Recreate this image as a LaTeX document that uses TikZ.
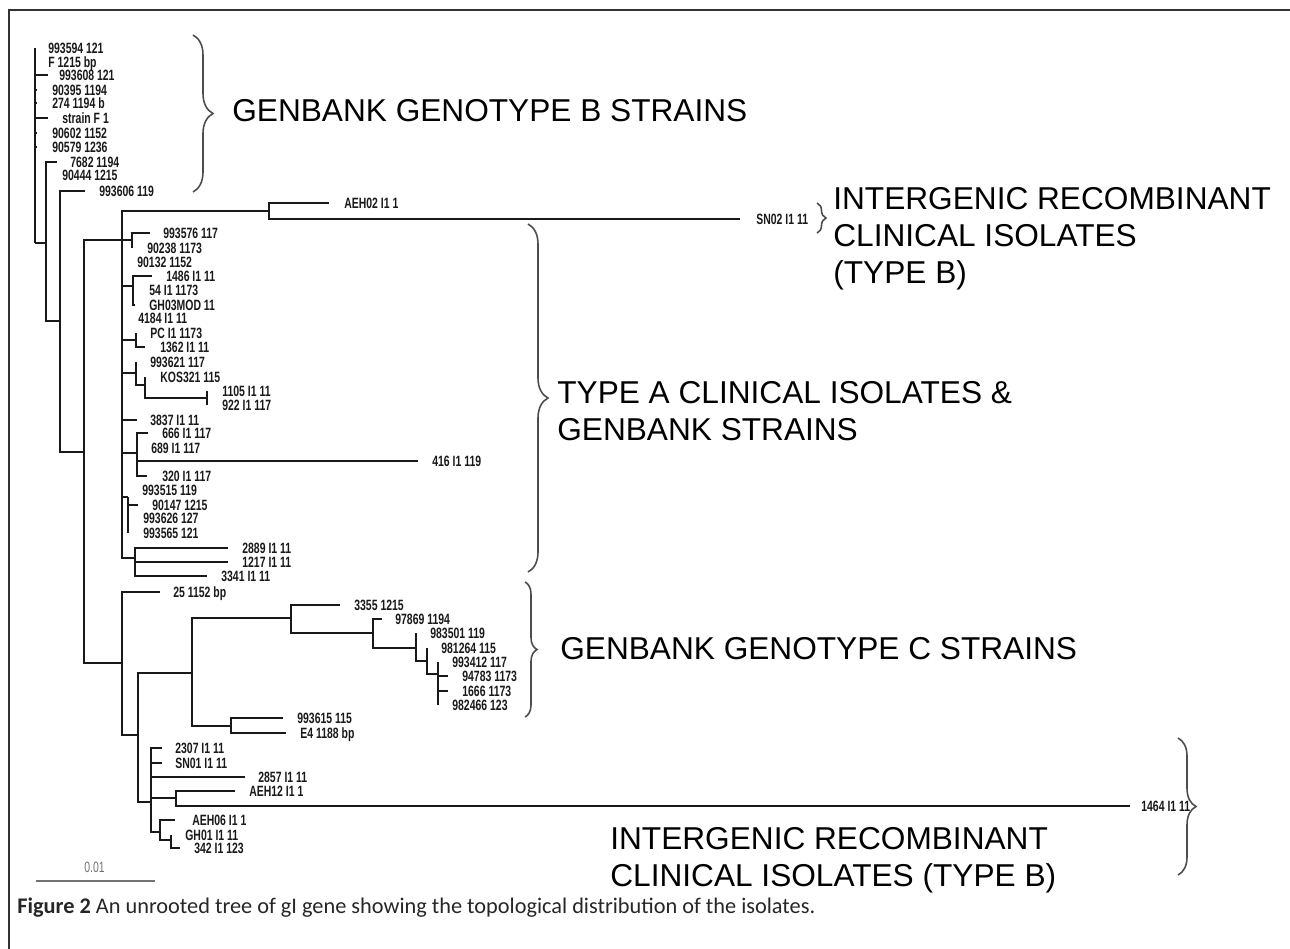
\documentclass[tikz,border=0pt]{standalone}
\usepackage{fontspec}
\setmainfont{Liberation Sans}
\newfontfamily\leaffont[FakeStretch=0.7]{Liberation Sans}
\newfontfamily\captionfont{Carlito}
\usetikzlibrary{decorations.pathreplacing}

\begin{document}
\begin{tikzpicture}[x=0.02cm,y=-0.02cm]
\tikzstyle{branch}=[line width=1.1pt, color=black!90];
\tikzstyle{leaf}=[anchor=west, inner sep=0pt, text depth=0pt, font=\leaffont\bfseries\fontsize{8.5pt}{10pt}\selectfont, text=black!90];
\tikzstyle{group}=[anchor=north west, inner sep=0pt, align=left, font=\fontsize{18pt}{21pt}\selectfont];
\tikzstyle{bracket}=[decorate, line width=0.9pt, color=black!70];
\useasboundingbox (0,0) rectangle (1290,948);
\path (9,10) rectangle (1297,956) [draw, rounded corners=0.24cm, line width=0.9pt, color=black!80];
% internal nodes
\coordinate (root) at (35,243);
\coordinate (b_mid) at (46,243);
\coordinate (b_low) at (60,321);
\coordinate (spine) at (84,452);
\coordinate (a_stem) at (122,240);
\coordinate (aeh02_sn02) at (269,211);
\coordinate (a_993576) at (132,240);
\coordinate (a_1486) at (133,286);
\coordinate (a_pc) at (136,340);
\coordinate (a_993621) at (136,373);
\coordinate (a_kos) at (145,385);
\coordinate (a_1105) at (207,398);
\coordinate (a_666) at (137,453);
\coordinate (a_90147) at (128,497);
\coordinate (a_2889) at (135,558);
\coordinate (c_stem) at (122,663);
\coordinate (bc_node) at (138,735);
\coordinate (c_node) at (192,673);
\coordinate (c_993615) at (231,726);
\coordinate (c_3355) at (291,618);
\coordinate (c_97869) at (373,633);
\coordinate (c_983501) at (416,648);
\coordinate (c_981264) at (427,661);
\coordinate (c_94783) at (438,674);
\coordinate (i_node) at (151,802);
\coordinate (i_aeh12) at (176,798);
\coordinate (i_aeh06) at (160,832);
\coordinate (i_gh01) at (171,840);
% branch tips
\coordinate (t_993594) at (35,48);
\coordinate (t_f1215) at (35,62);
\coordinate (t_993608) at (48,75);
\coordinate (t_90395) at (37,90);
\coordinate (t_274) at (37,103);
\coordinate (t_strainf) at (48,118);
\coordinate (t_90602) at (37,133);
\coordinate (t_90579) at (37,147);
\coordinate (t_7682) at (57,162);
\coordinate (t_90444) at (46,175);
\coordinate (t_993606) at (85,191);
\coordinate (t_aeh02) at (329,203);
\coordinate (t_sn02) at (740,219);
\coordinate (t_993576) at (150,233);
\coordinate (t_90238) at (132,248);
\coordinate (t_90132) at (122,262);
\coordinate (t_1486) at (152,276);
\coordinate (t_54) at (133,290);
\coordinate (t_gh03) at (135,305);
\coordinate (t_4184) at (122,318);
\coordinate (t_pc) at (136,333);
\coordinate (t_1362) at (145,347);
\coordinate (t_993621) at (136,362);
\coordinate (t_kos321) at (145,377);
\coordinate (t_1105) at (207,391);
\coordinate (t_922) at (207,405);
\coordinate (t_3837) at (137,420);
\coordinate (t_666) at (148,433);
\coordinate (t_689) at (137,448);
\coordinate (t_416) at (418,461);
\coordinate (t_320) at (147,476);
\coordinate (t_993515) at (122,490);
\coordinate (t_90147) at (138,505);
\coordinate (t_993626) at (128,518);
\coordinate (t_993565) at (128,533);
\coordinate (t_2889) at (228,548);
\coordinate (t_1217) at (228,562);
\coordinate (t_3341) at (207,576);
\coordinate (t_25) at (160,592);
\coordinate (t_3355) at (340,605);
\coordinate (t_97869) at (382,619);
\coordinate (t_983501) at (416,633);
\coordinate (t_981264) at (427,648);
\coordinate (t_993412) at (438,662);
\coordinate (t_94783) at (448,676);
\coordinate (t_1666) at (448,691);
\coordinate (t_982466) at (438,705);
\coordinate (t_993615) at (283,718);
\coordinate (t_e4) at (286,733);
\coordinate (t_2307) at (162,748);
\coordinate (t_sn01) at (162,763);
\coordinate (t_2857) at (245,777);
\coordinate (t_aeh12) at (235,791);
\coordinate (t_1464) at (1130,806);
\coordinate (t_aeh06) at (175,820);
\coordinate (t_gh01) at (171,835);
\coordinate (t_342) at (180,848);
\coordinate (scale_l) at (36,881);
\coordinate (scale_r) at (155,881);
% leaf labels
\node (l_993594) at (48,48) [leaf] {993594 121};
\node (l_f1215) at (48,62) [leaf] {F 1215 bp};
\node (l_993608) at (59,75) [leaf] {993608 121};
\node (l_90395) at (52,90) [leaf] {90395 1194};
\node (l_274) at (52,103) [leaf] {274 1194 b};
\node (l_strainf) at (62,118) [leaf] {strain F 1};
\node (l_90602) at (52,133) [leaf] {90602 1152};
\node (l_90579) at (52,147) [leaf] {90579 1236};
\node (l_7682) at (70,162) [leaf] {7682 1194};
\node (l_90444) at (62,175) [leaf] {90444 1215};
\node (l_993606) at (99,191) [leaf] {993606 119};
\node (l_aeh02) at (344,203) [leaf] {AEH02 I1 1};
\node (l_sn02) at (756,219) [leaf] {SN02 I1 11};
\node (l_993576) at (163,233) [leaf] {993576 117};
\node (l_90238) at (147,248) [leaf] {90238 1173};
\node (l_90132) at (137,262) [leaf] {90132 1152};
\node (l_1486) at (166,276) [leaf] {1486 I1 11};
\node (l_54) at (149,290) [leaf] {54 I1 1173};
\node (l_gh03) at (149,305) [leaf] {GH03MOD 11};
\node (l_4184) at (138,318) [leaf] {4184 I1 11};
\node (l_pc) at (150,333) [leaf] {PC I1 1173};
\node (l_1362) at (160,347) [leaf] {1362 I1 11};
\node (l_993621) at (150,362) [leaf] {993621 117};
\node (l_kos321) at (160,377) [leaf] {KOS321 115};
\node (l_1105) at (222,391) [leaf] {1105 I1 11};
\node (l_922) at (222,405) [leaf] {922 I1 117};
\node (l_3837) at (150,420) [leaf] {3837 I1 11};
\node (l_666) at (162,433) [leaf] {666 I1 117};
\node (l_689) at (151,448) [leaf] {689 I1 117};
\node (l_416) at (432,461) [leaf] {416 I1 119};
\node (l_320) at (162,476) [leaf] {320 I1 117};
\node (l_993515) at (142,490) [leaf] {993515 119};
\node (l_90147) at (152,505) [leaf] {90147 1215};
\node (l_993626) at (143,518) [leaf] {993626 127};
\node (l_993565) at (143,533) [leaf] {993565 121};
\node (l_2889) at (242,548) [leaf] {2889 I1 11};
\node (l_1217) at (242,562) [leaf] {1217 I1 11};
\node (l_3341) at (221,576) [leaf] {3341 I1 11};
\node (l_25) at (173,592) [leaf] {25 1152 bp};
\node (l_3355) at (354,605) [leaf] {3355 1215};
\node (l_97869) at (395,619) [leaf] {97869 1194};
\node (l_983501) at (430,633) [leaf] {983501 119};
\node (l_981264) at (441,648) [leaf] {981264 115};
\node (l_993412) at (452,662) [leaf] {993412 117};
\node (l_94783) at (462,676) [leaf] {94783 1173};
\node (l_1666) at (462,691) [leaf] {1666 1173};
\node (l_982466) at (452,705) [leaf] {982466 123};
\node (l_993615) at (297,718) [leaf] {993615 115};
\node (l_e4) at (300,733) [leaf] {E4 1188 bp};
\node (l_2307) at (175,748) [leaf] {2307 I1 11};
\node (l_sn01) at (175,763) [leaf] {SN01 I1 11};
\node (l_2857) at (258,777) [leaf] {2857 I1 11};
\node (l_aeh12) at (249,791) [leaf] {AEH12 I1 1};
\node (l_1464) at (1141,806) [leaf] {1464 I1 11};
\node (l_aeh06) at (192,820) [leaf] {AEH06 I1 1};
\node (l_gh01) at (185,835) [leaf] {GH01 I1 11};
\node (l_342) at (194,848) [leaf] {342 I1 123};
\node (scale_label) at (84,867) [leaf, font=\leaffont\fontsize{8.5pt}{10pt}\selectfont, text=black!55] {0.01};
% group labels
\node (grp_b) at (232,99) [group] {GENBANK GENOTYPE B STRAINS};
\node (grp_sn02) at (833,187) [group] {INTERGENIC RECOMBINANT\\CLINICAL ISOLATES\\(TYPE B)};
\node (grp_a) at (557,381) [group] {TYPE A CLINICAL ISOLATES \&\\GENBANK STRAINS};
\node (grp_c) at (560,637) [group] {GENBANK GENOTYPE C STRAINS};
\node (grp_i) at (610,827) [group] {INTERGENIC RECOMBINANT\\CLINICAL ISOLATES (TYPE B)};
\node (caption) at (17,908) [anchor=west, inner sep=0pt, font=\captionfont\fontsize{12.7pt}{14pt}\selectfont, text=black!85] {\textbf{Figure 2} An unrooted tree of gI gene showing the topological distribution of the isolates.};
% branches
\path (root) |- (t_993594) (root) |- (t_f1215) (root) |- (t_993608) (root) |- (t_90395) (root) |- (t_274) (root) |- (t_strainf) (root) |- (t_90602) (root) |- (t_90579) (root) -- (b_mid) [draw, branch];
\path (b_mid) |- (t_7682) (b_mid) |- (t_90444) (b_mid) |- (b_low) [draw, branch];
\path (b_low) |- (t_993606) (b_low) |- (spine) [draw, branch];
\path (spine) |- (a_stem) (spine) |- (c_stem) [draw, branch];
\path (a_stem) |- (aeh02_sn02) (a_stem) -- (a_993576) (a_stem) |- (t_90132) (a_stem) |- (a_1486) (a_stem) |- (t_4184) (a_stem) |- (a_pc) (a_stem) |- (a_993621) (a_stem) |- (t_3837) (a_stem) |- (a_666) (a_stem) |- (t_993515) (a_stem) |- (a_90147) (a_stem) |- (a_2889) [draw, branch];
\path (aeh02_sn02) |- (t_aeh02) (aeh02_sn02) |- (t_sn02) [draw, branch];
\path (a_993576) |- (t_993576) (a_993576) |- (t_90238) [draw, branch];
\path (a_1486) |- (t_1486) (a_1486) |- (t_54) (a_1486) |- (t_gh03) [draw, branch];
\path (a_pc) |- (t_pc) (a_pc) |- (t_1362) [draw, branch];
\path (a_993621) |- (t_993621) (a_993621) |- (a_kos) [draw, branch];
\path (a_kos) |- (t_kos321) (a_kos) |- (a_1105) [draw, branch];
\path (a_1105) |- (t_1105) (a_1105) |- (t_922) [draw, branch];
\path (a_666) |- (t_666) (a_666) |- (t_689) (a_666) |- (t_416) (a_666) |- (t_320) [draw, branch];
\path (a_90147) |- (t_90147) (a_90147) |- (t_993626) (a_90147) |- (t_993565) [draw, branch];
\path (a_2889) |- (t_2889) (a_2889) |- (t_1217) (a_2889) |- (t_3341) [draw, branch];
\path (c_stem) |- (t_25) (c_stem) |- (bc_node) [draw, branch];
\path (bc_node) |- (c_node) (bc_node) |- (i_node) [draw, branch];
\path (c_node) |- (c_3355) (c_node) |- (c_993615) [draw, branch];
\path (c_993615) |- (t_993615) (c_993615) |- (t_e4) [draw, branch];
\path (c_3355) |- (t_3355) (c_3355) |- (c_97869) [draw, branch];
\path (c_97869) |- (t_97869) (c_97869) |- (c_983501) [draw, branch];
\path (c_983501) |- (t_983501) (c_983501) |- (c_981264) [draw, branch];
\path (c_981264) |- (t_981264) (c_981264) |- (c_94783) [draw, branch];
\path (c_94783) |- (t_993412) (c_94783) |- (t_94783) (c_94783) |- (t_1666) (c_94783) |- (t_982466) [draw, branch];
\path (i_node) |- (t_2307) (i_node) |- (t_sn01) (i_node) |- (t_2857) (i_node) |- (i_aeh12) (i_node) |- (i_aeh06) [draw, branch];
\path (i_aeh12) |- (t_aeh12) (i_aeh12) |- (t_1464) [draw, branch];
\path (i_aeh06) |- (t_aeh06) (i_aeh06) |- (i_gh01) [draw, branch];
\path (i_gh01) |- (t_gh01) (i_gh01) |- (t_342) [draw, branch];
\path (scale_l) -- (scale_r) [draw, line width=1.1pt, color=black!55];
% braces
\path (193,35) -- (193,192) [draw, bracket, decoration={brace, amplitude=0.4cm}];
\path (817,203) -- (817,233) [draw, bracket, decoration={brace, amplitude=0.18cm}];
\path (528,224) -- (528,572) [draw, bracket, decoration={brace, amplitude=0.4cm}];
\path (525,582) -- (525,717) [draw, bracket, decoration={brace, amplitude=0.24cm}];
\path (1178,738) -- (1178,875) [draw, bracket, decoration={brace, amplitude=0.36cm}];
\end{tikzpicture}
\end{document}
